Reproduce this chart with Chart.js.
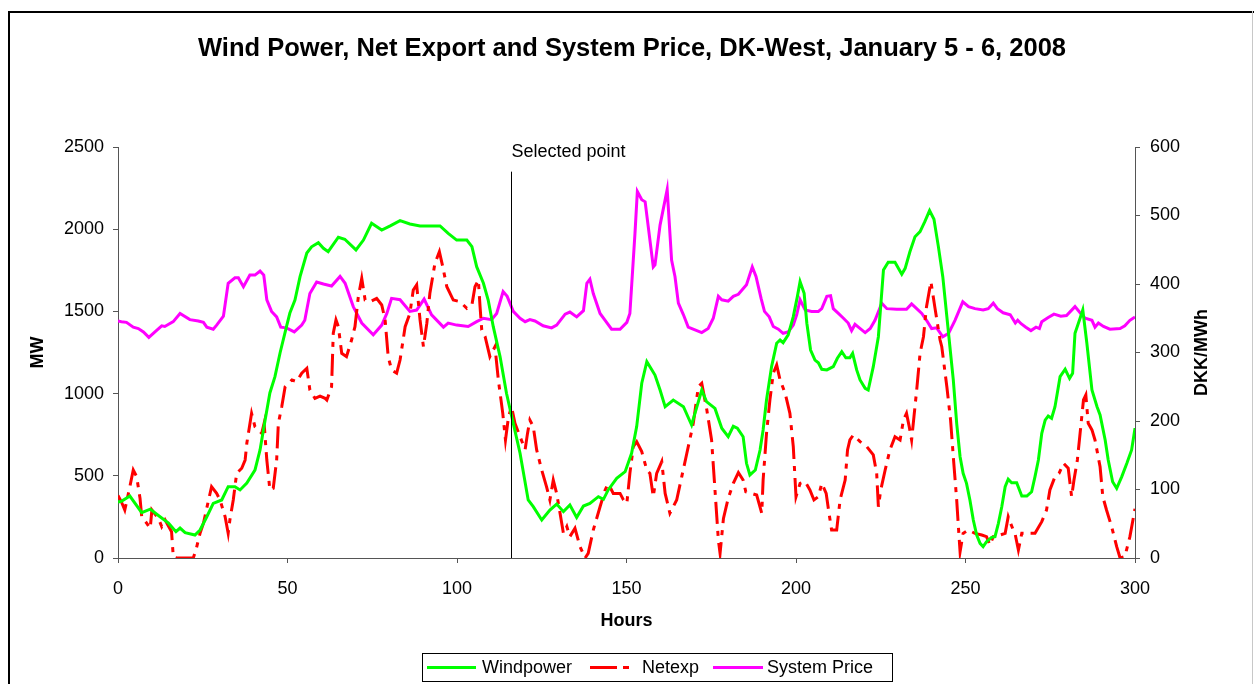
<!DOCTYPE html>
<html><head><meta charset="utf-8">
<script src="https://cdn.jsdelivr.net/npm/chart.js@4.4.1/dist/chart.umd.min.js"></script>
<style>html,body{margin:0;padding:0;background:#fff;overflow:hidden}</style>
</head><body>
<canvas id="c" width="1254" height="684"></canvas>
<script>
const chartTitle = 'Wind Power, Net Export and System Price, DK-West, January 5 - 6, 2008';
const seriesNames = ['Windpower', 'Netexp', 'System Price'];
const hourTicks = [0, 50, 100, 150, 200, 250, 300];
const mwTicks = [0, 500, 1000, 1500, 2000, 2500];
const priceTicks = [0, 100, 200, 300, 400, 500, 600];
const selectedHour = 116;
const selectedTopMW = 2350;
const selectedLabel = 'Selected point';

const windHours = [
0,1,3.5,7,9.5,12.4,14.9,17.1,18.3,19.8,
22.7,24.2,26.2,28.1,30.6,32.5,34.5,36,38,40.4,
41.9,43.4,44.8,46.3,47.8,49.7,50.7,52.2,53.7,55.7,
57.1,59.1,60.6,62,65,66.9,70.2,72.4,74.8,77.8,
80.3,83.2,86.1,89.1,95,97.4,99.9,102.9,104.4,105.8,
107.8,109.2,110.7,112.7,114.6,116.6,118.6,121,122.5,125,
127.4,129.4,131.4,133.3,135.3,137.3,139.2,141.7,143.2,144.6,
147.1,149.6,151.5,153,154.5,156,157.5,158.4,159.9,161.4,
163.8,166.8,169.2,172.2,173.6,176.1,178.1,180,181.5,182.7,
184.4,185.4,186.4,188,189.4,190.3,191.3,192.8,194.3,195.3,
196.2,197.7,199.2,200.4,201.2,202.4,203.2,204.3,205.6,206.6,
207.6,209.1,211,212.2,213.5,214.7,215.9,216.7,217.9,218.9,
220.4,221.3,222.8,224.3,225.8,227.2,229.2,231.2,232.2,233.6,
235.1,236.6,238,239.4,240.7,242,243.3,244.5,245.4,246.4,
247.4,248.4,249.3,250.3,251.3,252.3,253.3,254.3,255.2,256.2,
257.7,258.7,259.7,260.7,261.7,262.6,263.6,265.1,266.6,268.1,
269.5,270.5,271.5,272.5,273.5,274.4,275.4,276.4,277.9,279.4,
280.7,281.6,282.3,283.8,284.6,285.8,287.3,288.8,289.7,291.2,
292.1,293.4,294.6,296.1,297.6,299,300];
const windMW = [
340,345,377,276,297,251,212,160,182,154,
140,170,251,332,353,434,434,414,456,535,
657,839,1004,1103,1247,1407,1490,1569,1711,1855,
1893,1918,1884,1863,1951,1939,1874,1934,2036,1995,
2020,2052,2032,2020,2020,1975,1934,1934,1894,1772,
1671,1569,1407,1225,1002,819,637,353,312,231,
292,328,282,322,247,316,332,373,357,414,
485,525,637,799,1063,1194,1144,1113,1022,920,
961,920,809,1022,951,910,789,738,801,790,
738,576,505,535,657,779,961,1164,1306,1326,
1310,1357,1468,1590,1681,1610,1428,1265,1204,1188,
1148,1144,1164,1215,1255,1218,1218,1245,1144,1083,
1032,1022,1164,1346,1752,1799,1799,1726,1762,1863,
1954,1985,2046,2113,2060,1894,1711,1468,1285,1083,
819,616,515,454,353,231,140,89,69,99,
126,130,211,312,434,479,458,458,377,377,
403,495,596,758,839,864,850,920,1103,1148,
1093,1124,1367,1458,1509,1306,1022,920,870,718,
596,464,424,495,576,657,790];

const netHours = [
0,1,2,3.3,4.5,5.5,6.5,7,8.5,9.5,
10,11.9,12.9,13.9,15.8,16.3,17.3,22.2,23,24.2,
25.2,26.6,27.6,29.1,30.1,31.6,32.5,33,34,35,
36.5,37.5,38,39.4,40.4,42.4,43.1,43.9,44.8,45.8,
46.8,47.3,48.3,49.3,51.3,52.7,54.2,55.7,56.6,58.1,
59.6,61.1,61.6,63,63.5,64.3,65,66,67.4,68.9,
69.9,70.9,71.9,72.9,74.4,76.3,77.8,78.8,79.7,80.7,
82.2,83.2,84.7,86.1,87.1,88.1,89.1,90.1,91.1,92,
93.5,94.8,95.8,97,98.9,100.9,102.9,104.4,105.3,106.3,
106.8,107.3,108.3,109.7,111.2,112.2,113.5,114.3,115.2,116.1,
117.1,118.6,120.1,120.8,121.5,122.5,123.5,125,126.4,127.4,
128.4,129.4,130.4,131.4,132.4,133.3,134.8,136.3,137.8,138.7,
140.2,142.2,143.7,144.6,146.1,148.1,149.1,150.1,151,152,
153,154.5,156,156.9,157.9,158.9,160.4,161.4,162.8,164.8,
166.3,167.8,169.7,171.2,172.2,173.7,175.1,176.1,177.1,177.6,
178.6,180,181.5,183,184.4,185.2,186.9,188.4,189.9,190.3,
191.3,192.3,193.3,194.3,195.3,196.8,198.2,199.2,200,201.2,
202.7,204.1,205.3,206.6,207.6,208.9,209.6,210.5,212,213,
214.5,215.2,215.9,216.9,218.9,220.9,222.8,223.8,224.3,225,
226.3,227.7,229.2,230.7,231.7,232.6,233.4,234.1,234.8,235.6,
236.6,237.6,238.5,239.8,241,242.5,243,244.5,245.6,246.4,
247.4,247.9,248.4,249.3,250.8,252.8,254.8,256.2,257.2,258.2,
260.2,261.7,262.6,263.3,264.7,265.6,266.6,268.1,270.5,272.5,
273.9,274.9,276.4,277.6,278.9,280.3,281.3,282,283,283.8,
284.8,285.5,286.2,287.3,288.2,289.7,290.5,291.6,293.1,294.6,
295.6,297,298.5,300];
const netMW = [
380,342,292,414,535,495,363,251,211,181,
292,241,191,231,160,8,0,0,49,150,
211,342,434,393,353,251,150,231,353,515,
546,596,698,880,799,758,819,596,414,424,
596,819,920,1042,1083,1073,1124,1154,1022,971,
985,971,961,1042,1367,1448,1407,1245,1225,1326,
1407,1590,1701,1569,1559,1579,1539,1448,1225,1144,
1124,1204,1407,1488,1630,1661,1448,1285,1428,1610,
1793,1863,1772,1650,1569,1559,1519,1539,1650,1691,
1529,1387,1346,1225,1285,1083,880,718,860,920,
819,738,660,758,839,799,657,535,434,353,
474,393,272,150,191,130,181,69,0,28,
170,312,414,454,393,393,353,332,515,677,
708,647,535,515,373,515,586,393,272,353,
495,637,819,1042,1063,900,718,414,109,28,
241,363,454,520,474,403,393,383,272,474,
758,961,1124,1174,1083,1002,880,677,373,454,
464,414,353,373,454,393,292,170,170,353,
474,657,718,748,708,677,627,515,312,414,
535,657,738,718,839,880,799,718,860,1022,
1245,1346,1529,1681,1520,1326,1285,1042,839,616,
353,191,38,150,170,150,140,130,79,130,
140,150,251,211,140,49,150,150,150,221,
292,414,495,515,576,546,373,474,596,758,
961,992,819,779,718,555,373,292,191,69,
0,8,130,300];

const priceHours = [
0,1,2.5,4.5,6,7.5,9.1,10.9,12.9,13.8,
16.3,18.3,21.2,23.7,25.2,26.2,28.1,29.1,31.1,32.5,
34.5,35.5,37,38.9,40.4,41.9,43,43.9,45.3,46.8,
48,49.7,52,54.2,55.1,56.6,58.6,60.6,63,65.5,
67,69.4,71.9,75.3,77.8,79.3,80.7,83.2,86.1,88.1,
90.3,92.5,96,97.4,99.9,103.3,105.8,107.8,110.2,111.7,
113.6,114.8,116.6,118.6,120.1,121.5,123,125.4,127.9,129.4,
131.9,133.3,135.3,137.3,138.3,139.2,140.2,142.2,143.7,145.6,
148.1,150.1,151,152.5,153.2,154.5,155.5,157.9,158.4,159.9,
162,163.3,164.3,165.3,166.8,168.2,170.2,172.2,174.1,175.6,
177.1,178.1,180,181.5,183,185.4,187.1,188.2,189.7,190.7,
192.1,193.3,194.8,196.2,197.7,199.2,200.2,201.2,202.7,204.6,
206.6,207.6,209.1,210.2,211,212.5,214,215.4,216.4,217.4,
219.4,220.4,221.9,223.3,225.3,226.8,229.7,232.6,234.1,235.6,
237.1,238.5,240,241.5,243.3,245,246.9,249.2,250.9,252.8,
255.2,256.7,258.2,259.4,261.1,263.2,264.7,265.4,266.4,267.8,
269.3,270.8,271.8,272.5,274.4,276.1,278.1,279.8,282.3,283.8,
285.3,287.3,288.2,289.2,290.7,292.6,295.6,297,298.5,300];
const priceDKK = [
346,345,344,337,335,330,322,330,339,338,
345,357,348,346,344,337,334,340,353,401,
409,409,396,413,413,419,413,377,360,352,
337,336,330,340,347,386,403,400,397,411,
401,367,343,326,340,357,379,377,360,362,
378,355,337,343,340,338,345,350,348,357,
389,382,360,350,345,348,346,339,336,340,
356,359,352,361,401,407,386,357,347,334,
334,344,357,474,535,523,520,425,428,486,
538,435,411,372,355,337,333,329,335,350,
382,377,375,382,385,399,425,411,379,360,
352,338,334,328,330,340,355,377,362,360,
360,364,382,383,364,357,350,343,332,341,
333,329,335,347,372,364,363,363,371,364,
357,347,335,336,323,328,347,374,367,364,
362,364,372,364,358,355,343,347,342,337,
332,337,335,345,351,356,353,354,367,358,
350,347,337,343,338,334,335,339,347,352];

const FONT = '"Liberation Sans", Arial, Helvetica, sans-serif';
const colors = ['#00ff00', '#ff0000', '#ff00ff'];
const netDash = [22, 7, 5, 7];
const toXY = (hs, vs) => hs.map((h, i) => ({x: h, y: vs[i]}));

Chart.defaults.font.family = FONT;
Chart.defaults.color = '#000';

const decor = {
  id: 'decor',
  beforeDraw(chart) {
    const ctx = chart.ctx;
    ctx.save();
    ctx.fillStyle = '#fff';
    ctx.fillRect(0, 0, chart.width, chart.height);
    ctx.fillStyle = '#000';
    ctx.fillRect(8, 11, 2, chart.height - 11);
    ctx.fillRect(8, 11, chart.width - 8, 2);
    ctx.fillStyle = '#c8c8c8';
    ctx.fillRect(chart.width - 2, 11, 1, chart.height - 11);
    ctx.restore();
  },
  afterDatasetsDraw(chart) {
    const {ctx, scales: {x, y}} = chart;
    const px = Math.round(x.getPixelForValue(selectedHour)) + 0.5;
    ctx.save();
    ctx.strokeStyle = '#000';
    ctx.lineWidth = 1;
    ctx.beginPath();
    ctx.moveTo(px, y.getPixelForValue(selectedTopMW));
    ctx.lineTo(px, y.bottom);
    ctx.stroke();
    ctx.font = '18px ' + FONT;
    ctx.fillStyle = '#000';
    ctx.textAlign = 'left';
    ctx.textBaseline = 'alphabetic';
    ctx.fillText(selectedLabel, px, y.top + 10);
    ctx.restore();
  },
  afterDraw(chart) {
    const {ctx, scales: {y1}} = chart;
    ctx.save();
    ctx.font = 'bold 18px ' + FONT;
    ctx.fillStyle = '#000';
    ctx.textAlign = 'center';
    ctx.textBaseline = 'middle';
    ctx.translate(1202, (y1.top + y1.bottom) / 2);
    ctx.rotate(-Math.PI / 2);
    ctx.fillText('DKK/MWh', 0, 0);
    ctx.restore();
    ctx.save();
    ctx.strokeStyle = '#000';
    ctx.lineWidth = 1;
    ctx.strokeRect(422.5, 653.5, 470, 28);
    ctx.font = '18px ' + FONT;
    ctx.textAlign = 'left';
    ctx.textBaseline = 'middle';
    const ly = 667.5;
    const items = [
      {x0: 427, x1: 476, tx: 482, dash: []},
      {x0: 590, x1: 630, tx: 642, dash: [27, 6, 6, 30]},
      {x0: 713, x1: 763, tx: 767, dash: []}
    ];
    items.forEach((it, i) => {
      ctx.strokeStyle = colors[i];
      ctx.lineWidth = 3;
      ctx.setLineDash(it.dash);
      ctx.beginPath();
      ctx.moveTo(it.x0, ly);
      ctx.lineTo(it.x1, ly);
      ctx.stroke();
      ctx.setLineDash([]);
      ctx.fillStyle = '#000';
      ctx.fillText(seriesNames[i], it.tx, ly + 1);
    });
    ctx.restore();
  }
};

const tickFont = {size: 18, family: FONT};
const plainNum = v => String(v);
const axisGrid = {display: true, drawOnChartArea: false, drawTicks: true, tickLength: 5, color: '#555', lineWidth: 1};
const axisBorder = {display: true, color: '#555', width: 1};

new Chart(document.getElementById('c'), {
  type: 'line',
  data: {
    datasets: [
      {label: seriesNames[0], data: toXY(windHours, windMW), borderColor: colors[0], borderWidth: 3, pointRadius: 0, yAxisID: 'y', tension: 0},
      {label: seriesNames[1], data: toXY(netHours, netMW), borderColor: colors[1], borderWidth: 3, borderDash: netDash, pointRadius: 0, yAxisID: 'y', tension: 0},
      {label: seriesNames[2], data: toXY(priceHours, priceDKK), borderColor: colors[2], borderWidth: 3, pointRadius: 0, yAxisID: 'y1', tension: 0}
    ]
  },
  options: {
    responsive: false,
    animation: false,
    devicePixelRatio: 1,
    layout: {padding: {left: 10, right: 0, top: 0, bottom: 0}},
    plugins: {
      legend: {display: false},
      tooltip: {enabled: false},
      title: {display: true, text: chartTitle, color: '#000', font: {size: 25.5, weight: 'bold', family: FONT}, padding: {top: 33.5, bottom: 82.9}}
    },
    scales: {
      x: {
        type: 'linear', min: 0, max: 300,
        afterBuildTicks: s => { s.ticks = hourTicks.map(v => ({value: v})); },
        afterFit: s => { s.height = 126; },
        ticks: {font: tickFont, color: '#000', padding: 15, maxRotation: 0, callback: plainNum},
        grid: axisGrid, border: axisBorder,
        title: {display: true, text: 'Hours', color: '#000', font: {size: 18, weight: 'bold', family: FONT}, padding: {top: 0, bottom: 52}}
      },
      y: {
        type: 'linear', position: 'left', min: 0, max: 2500,
        afterBuildTicks: s => { s.ticks = mwTicks.map(v => ({value: v})); },
        afterFit: s => { s.width = 108; },
        ticks: {font: tickFont, color: '#000', padding: 9, callback: plainNum},
        grid: axisGrid, border: axisBorder,
        title: {display: true, text: 'MW', color: '#000', font: {size: 18, weight: 'bold', family: FONT}, padding: {top: 17, bottom: 0}}
      },
      y1: {
        type: 'linear', position: 'right', min: 0, max: 600,
        afterBuildTicks: s => { s.ticks = priceTicks.map(v => ({value: v})); },
        afterFit: s => { s.width = 119; },
        ticks: {font: tickFont, color: '#000', padding: 10, callback: plainNum},
        grid: axisGrid, border: axisBorder
      }
    }
  },
  plugins: [decor]
});
</script>
</body></html>
